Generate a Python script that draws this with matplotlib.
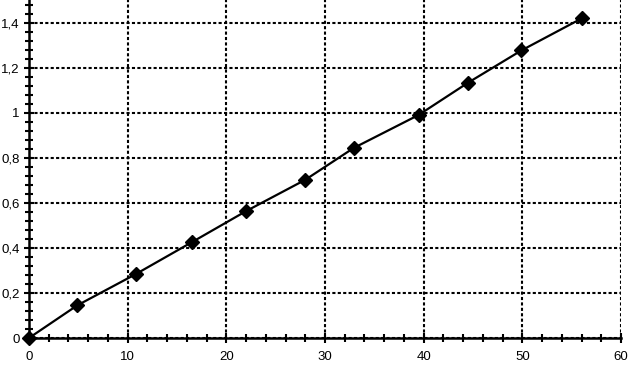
import numpy as np
import matplotlib.pyplot as plt
from matplotlib.ticker import MultipleLocator, FuncFormatter

x = [0, 4.9, 10.8, 16.5, 22.0, 28.0, 32.9, 39.5, 44.5, 49.9, 56.0]
y = [0, 0.145, 0.283, 0.425, 0.563, 0.702, 0.843, 0.990, 1.133, 1.276, 1.418]

plt.rcParams['font.family'] = 'Liberation Sans'

fig = plt.figure(figsize=(6.3, 3.69), dpi=100)
ax = fig.add_axes([0.046, 0.084, 0.9397, 0.916])

ax.plot(x, y, color='black', linewidth=1.6, marker='D', markersize=7.5,
        markerfacecolor='black', markeredgecolor='black', clip_on=False, zorder=3)

ax.set_xlim(0, 60)
ax.set_ylim(0, 1.5)
ax.xaxis.set_major_locator(MultipleLocator(10))
ax.xaxis.set_minor_locator(MultipleLocator(2))
ax.yaxis.set_major_locator(MultipleLocator(0.2))
ax.yaxis.set_minor_locator(MultipleLocator(0.04))
ax.yaxis.set_major_formatter(FuncFormatter(lambda v, p: f'{v:g}'.replace('.', ',')))

ax.grid(True, which='major', color='black', linestyle=(0, (1.5, 1.1)), linewidth=1.5)
for s in ['top', 'right']:
    ax.spines[s].set_visible(False)
for s in ['left', 'bottom']:
    ax.spines[s].set_linewidth(1.8)

ax.tick_params(which='both', direction='inout', width=1.5, labelsize=9.5, colors='black')
ax.tick_params(which='major', length=7)
ax.tick_params(which='minor', length=6)
ax.tick_params(axis='x', pad=6)
ax.tick_params(axis='y', pad=3)

fig.savefig('out.png', dpi=100)
